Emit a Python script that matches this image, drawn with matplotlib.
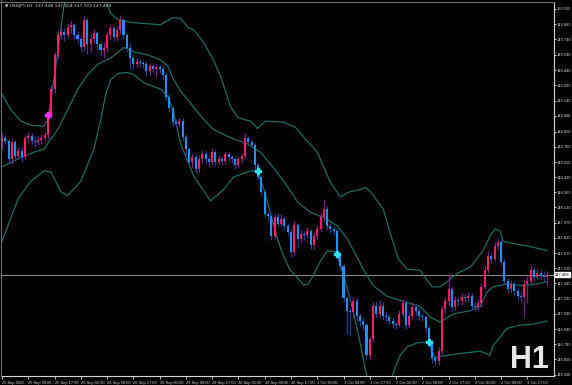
import matplotlib
matplotlib.use("Agg")
import matplotlib.pyplot as plt
import numpy as np

# ---------------- data ----------------
first_open = 148.76
closes = [148.79, 148.76, 148.58, 148.75, 148.61, 148.66, 148.60, 148.79, 148.81, 148.76,
          148.75, 148.77, 148.79, 148.82, 149.01, 149.26, 149.59, 149.78, 149.81, 149.78,
          149.86, 149.88, 149.78, 149.74, 149.67, 149.93, 149.69, 149.74, 149.80, 149.69,
          149.64, 149.66, 149.78, 149.85, 149.76, 149.83, 149.93, 149.78, 149.66, 149.56,
          149.50, 149.52, 149.51, 149.50, 149.43, 149.48, 149.45, 149.47, 149.45, 149.40,
          149.18, 149.08, 148.94, 148.92, 148.95, 148.80, 148.68, 148.56, 148.60, 148.49,
          148.58, 148.63, 148.58, 148.56, 148.65, 148.56, 148.58, 148.57, 148.63, 148.60,
          148.58, 148.53, 148.58, 148.61, 148.79, 148.75, 148.72, 148.53, 148.41, 148.27,
          148.05, 148.03, 147.84, 148.02, 147.96, 148.01, 147.94, 147.88, 147.69, 147.95,
          147.81, 147.86, 147.85, 147.89, 147.75, 147.84, 147.91, 148.02, 148.10, 147.94,
          147.91, 147.89, 147.65, 147.55, 147.24, 147.12, 147.11, 147.21, 147.07, 147.02,
          146.98, 146.69, 146.85, 147.17, 147.09, 147.17, 147.07, 147.06, 147.02, 146.99,
          146.98, 147.09, 147.19, 146.98, 147.07, 147.16, 147.12, 147.07, 147.06, 146.95,
          146.82, 146.66, 146.63, 146.73, 147.14, 147.21, 147.33, 147.16, 147.22, 147.21,
          147.25, 147.24, 147.26, 147.17, 147.16, 147.19, 147.35, 147.51, 147.65, 147.62,
          147.74, 147.78, 147.59, 147.41, 147.33, 147.38, 147.31, 147.26, 147.25, 147.38,
          147.41, 147.51, 147.45, 147.48, 147.46, 147.448, 147.469]
highs = [148.84, 148.82, 148.78, 148.78, 148.77, 148.69, 148.70, 148.82, 148.85, 148.84,
         148.80, 148.81, 148.83, 148.85, 149.05, 149.30, 149.62, 149.83, 149.86, 149.85,
         149.90, 149.92, 149.90, 149.82, 149.77, 149.97, 149.95, 149.79, 149.84, 149.82,
         149.72, 149.71, 149.82, 149.89, 149.87, 149.87, 149.97, 149.95, 149.80, 149.70,
         149.60, 149.56, 149.55, 149.54, 149.53, 149.51, 149.51, 149.50, 149.49, 149.48,
         149.42, 149.21, 149.10, 148.97, 148.98, 148.98, 148.83, 148.70, 148.64, 148.63,
         148.62, 148.67, 148.66, 148.61, 148.69, 148.67, 148.62, 148.61, 148.66, 148.65,
         148.62, 148.60, 148.61, 148.64, 148.84, 148.81, 148.77, 148.74, 148.55, 148.43,
         148.29, 148.08, 148.05, 148.05, 148.06, 148.05, 148.03, 147.97, 147.91, 147.99,
         147.97, 147.90, 147.89, 147.93, 147.91, 147.88, 147.95, 148.06, 148.20, 148.13,
         147.97, 147.94, 147.91, 147.67, 147.57, 147.26, 147.15, 147.25, 147.24, 147.10,
         147.05, 147.00, 146.88, 147.20, 147.21, 147.22, 147.20, 147.12, 147.09, 147.05,
         147.02, 147.13, 147.23, 147.22, 147.11, 147.20, 147.19, 147.15, 147.10, 147.08,
         146.97, 146.84, 146.69, 146.77, 147.18, 147.25, 147.48, 147.36, 147.26, 147.25,
         147.29, 147.28, 147.30, 147.29, 147.20, 147.23, 147.39, 147.55, 147.70, 147.68,
         147.78, 147.82, 147.81, 147.62, 147.44, 147.42, 147.41, 147.34, 147.30, 147.42,
         147.46, 147.56, 147.54, 147.52, 147.51, 147.50, 147.504]
lows = [148.68, 148.73, 148.55, 148.54, 148.58, 148.58, 148.56, 148.58, 148.74, 148.73,
        148.70, 148.72, 148.73, 148.76, 148.78, 148.98, 149.22, 149.55, 149.74, 149.72,
        149.75, 149.80, 149.74, 149.70, 149.62, 149.63, 149.60, 149.62, 149.70, 149.65,
        149.58, 149.56, 149.62, 149.74, 149.72, 149.72, 149.79, 149.74, 149.62, 149.45,
        149.45, 149.47, 149.47, 149.46, 149.39, 149.40, 149.41, 149.38, 149.41, 149.36,
        149.15, 149.04, 148.90, 148.88, 148.89, 148.77, 148.62, 148.52, 148.50, 148.45,
        148.46, 148.55, 148.54, 148.51, 148.53, 148.52, 148.53, 148.53, 148.54, 148.57,
        148.55, 148.49, 148.50, 148.55, 148.59, 148.72, 148.69, 148.49, 148.38, 148.24,
        148.02, 147.99, 147.80, 147.81, 147.93, 147.94, 147.90, 147.84, 147.64, 147.65,
        147.73, 147.77, 147.80, 147.82, 147.72, 147.72, 147.81, 147.88, 147.99, 147.90,
        147.87, 147.85, 147.62, 147.51, 147.20, 146.90, 146.88, 147.05, 147.02, 146.97,
        146.93, 146.65, 146.64, 146.82, 147.05, 147.06, 147.03, 147.02, 146.99, 146.95,
        146.94, 146.96, 147.06, 146.94, 146.95, 147.04, 147.08, 147.03, 147.02, 146.91,
        146.78, 146.62, 146.59, 146.60, 146.70, 147.10, 147.18, 147.12, 147.13, 147.17,
        147.18, 147.20, 147.21, 147.14, 147.12, 147.13, 147.16, 147.33, 147.48, 147.58,
        147.60, 147.71, 147.56, 147.38, 147.29, 147.30, 147.27, 147.22, 147.20, 147.06,
        147.19, 147.38, 147.41, 147.43, 147.42, 147.41, 147.372]

# band samples (bar index, price)
upper_idx = [0, 2.7, 5.8, 8.8, 12.8, 14, 14.9, 16.4, 17.9, 18.8, 21, 24, 27, 30, 31.6, 33.1,
             35.3, 40.1, 44.4, 48.3, 49.2, 52.3, 54.4, 56.8, 58.4, 61.4, 64.4, 66.6, 69.6,
             71.7, 73.3, 75.7, 77.8, 80.2, 85.7, 89.4, 91.8, 96, 100, 103, 106, 109.1, 110.6,
             112.2, 116.1, 118.8, 120.7, 123.4, 127.4, 129.5, 131, 133.4, 135.9, 138.6, 142.6,
             146.5, 148.6, 150.2, 151.7, 152.6, 155.6, 160.8, 166]
upper = [149.21, 149.06, 148.95, 148.91, 148.90, 148.97, 149.16, 149.48, 149.83, 150.05,
         150.36, 150.55, 150.50, 150.26, 150.12, 149.99, 149.93, 149.90, 149.89, 149.88,
         149.90, 149.95, 149.94, 149.85, 149.83, 149.71, 149.54, 149.38, 149.09, 148.99,
         148.97, 148.95, 148.88, 148.95, 148.94, 148.89, 148.80, 148.65, 148.36, 148.22,
         148.27, 148.29, 148.31, 148.27, 148.10, 147.81, 147.62, 147.52, 147.51, 147.41,
         147.35, 147.35, 147.41, 147.48, 147.54, 147.70, 147.84, 147.91, 147.89, 147.79,
         147.77, 147.74, 147.70]
middle_idx = [0, 2.7, 5.8, 9.7, 12.8, 14.3, 17, 20, 23.1, 26.1, 29.2, 33.1, 37.1, 40.1, 44.4,
              48.3, 50.5, 52.3, 54.4, 56.5, 60.5, 64.4, 69.6, 74.8, 78.7, 82.7, 86.9, 90,
              93.9, 97.9, 102.1, 105.2, 107.6, 110, 113.1, 117.3, 122.2, 127.4, 130.4, 133.4,
              137.4, 142.6, 145.6, 147.7, 149.5, 153.8, 158.7, 162.9, 166]
middle = [148.51, 148.55, 148.60, 148.65, 148.68, 148.75, 148.87, 149.06, 149.26, 149.40,
          149.50, 149.56, 149.66, 149.62, 149.59, 149.54, 149.48, 149.35, 149.24, 149.16,
          149.00, 148.87, 148.79, 148.73, 148.65, 148.50, 148.32, 148.17, 148.07, 148.02,
          147.94, 147.81, 147.67, 147.52, 147.36, 147.26, 147.21, 147.16, 147.06, 147.01,
          147.09, 147.12, 147.16, 147.30, 147.35, 147.38, 147.36, 147.38, 147.40]
lower_idx = [0, 1.8, 4.9, 8.8, 12.8, 14.9, 17.9, 20, 24, 28, 30.1, 31.6, 33.1, 35.3, 38.3,
             40.1, 43.2, 48.3, 50.5, 52.3, 54.4, 58.4, 63.5, 67.5, 70.5, 75.7, 77.8, 80.2,
             83.9, 85.7, 87.8, 89.4, 91.8, 93.3, 94.8, 97, 99.1, 101.5, 103, 106, 108.5,
             110.6, 112.8, 115.8, 118.2, 119.8, 121.3, 123.4, 126.4, 129.8, 131.9, 133.4,
             140.4, 145.6, 148.6, 149.5, 153.8, 157.7, 161.7, 166]
lower = [147.79, 147.94, 148.20, 148.37, 148.47, 148.46, 148.27, 148.23, 148.37, 148.68,
         148.97, 149.21, 149.35, 149.41, 149.42, 149.40, 149.32, 149.26, 149.19, 149.03,
         148.73, 148.42, 148.18, 148.29, 148.41, 148.47, 148.47, 148.25, 147.81, 147.65,
         147.51, 147.46, 147.37, 147.38, 147.46, 147.60, 147.70, 147.69, 147.57, 147.24,
         146.90, 146.56, 146.27, 146.23, 146.42, 146.58, 146.69, 146.77, 146.81, 146.82,
         146.66, 146.68, 146.71, 146.73, 146.69, 146.78, 146.95, 146.98, 146.99, 147.02]

buy_arrow_idx = [78, 102, 130]
buy_arrow_price = [148.47, 147.67, 146.82]
sell_arrow_idx = [14]
sell_arrow_price = [149.01]

ytick_vals = [150.035, 149.885, 149.740, 149.590, 149.440, 149.295, 149.145, 149.000,
              148.850, 148.705, 148.555, 148.410, 148.265, 148.120, 147.970, 147.825,
              147.675, 147.530, 147.385, 147.235, 147.090, 146.940, 146.795, 146.650, 146.500]
xtick_labels = ["25 Sep 2025", "25 Sep 09:00", "25 Sep 17:00", "26 Sep 01:00", "26 Sep 09:00",
                "26 Sep 17:00", "29 Sep 01:00", "29 Sep 09:00", "29 Sep 17:00", "30 Sep 01:00",
                "30 Sep 09:00", "30 Sep 17:00", "1 Oct 01:00", "1 Oct 09:00", "1 Oct 17:00",
                "2 Oct 01:00", "2 Oct 09:00", "2 Oct 17:00", "3 Oct 01:00", "3 Oct 09:00",
                "3 Oct 17:00"]
xtick_step = 8
last_price = 147.469
header = "\u25BC USDJPY,H1  147.448 147.504 147.372 147.469"

# ---------------- styles ----------------
BULL = "#ff1f66"
BEAR = "#1e90ff"
BULL_WICK = "#7d1f86"
BEAR_WICK = "#29408f"
BAND = "#1f6b64"
FG = "#d8d8d8"
FS = 2.9
SMALL_FONT = ["Liberation Sans", "DejaVu Sans"]
plt.rcParams["font.family"] = SMALL_FONT

W, H = 572, 385
fig = plt.figure(figsize=(W / 100, H / 100), dpi=100, facecolor="black")
ax = fig.add_axes([1 / W, 9 / H, 553 / W, 374 / H], facecolor="black")

n = len(closes)
opens = [first_open] + closes[:-1]
x = np.arange(n)
o = np.array(opens); c = np.array(closes); hi = np.array(highs); lo = np.array(lows)
up = c >= o

# bands
for bx, by in ((upper_idx, upper), (middle_idx, middle), (lower_idx, lower)):
    ax.plot(bx, by, color=BAND, lw=0.9, zorder=2)

# current price line
ax.axhline(last_price, color="#8a8a8a", lw=0.8, zorder=1)

# wicks
ax.vlines(x[up], lo[up], hi[up], color=BULL_WICK, lw=0.9, zorder=3)
ax.vlines(x[~up], lo[~up], hi[~up], color=BEAR_WICK, lw=0.9, zorder=3)
# bodies
body_h = np.maximum(np.abs(c - o), 0.006)
ax.bar(x[up], body_h[up], bottom=np.minimum(o, c)[up], width=0.62, color=BULL, lw=0, zorder=4)
ax.bar(x[~up], body_h[~up], bottom=np.minimum(o, c)[~up], width=0.62, color=BEAR, lw=0, zorder=4)

# arrows
ax.plot(buy_arrow_idx, buy_arrow_price, ls="none", marker="P", ms=5, color="#33e0ff",
        mec="#33e0ff", zorder=5)
ax.plot(sell_arrow_idx, sell_arrow_price, ls="none", marker="P", ms=5, color="#ff33ff",
        mec="#ff33ff", zorder=5)

ax.set_xlim(-0.3, 168.1)
ax.set_ylim(146.49, 150.10)

for s in ["left", "top"]:
    ax.spines[s].set_visible(False)
ax.spines["right"].set_color(FG); ax.spines["right"].set_linewidth(0.8)
ax.spines["bottom"].set_color(FG); ax.spines["bottom"].set_linewidth(0.8)

ax.yaxis.tick_right()
ax.set_yticks(ytick_vals)
ax.set_yticklabels([f"{v:.3f}" for v in ytick_vals])
ax.tick_params(axis="y", colors=FG, labelsize=FS, length=1.5, width=0.6, pad=0.4)
xt = np.arange(len(xtick_labels)) * xtick_step
ax.set_xticks(xt)
ax.set_xticklabels(xtick_labels, ha="left")
ax.tick_params(axis="x", colors=FG, labelsize=FS, length=2.5, width=0.6, pad=0.8)

# top / left border
fig.add_artist(plt.Line2D([0, 554 / W], [1 - 1.5 / H, 1 - 1.5 / H], color="#707070", lw=0.8))
fig.add_artist(plt.Line2D([1 / W, 1 / W], [9 / H, 1], color="#707070", lw=0.8))

# last price box
ax.annotate(f"{last_price:.3f}", xy=(1, last_price), xycoords=("axes fraction", "data"),
            xytext=(0.8, 0), textcoords="offset points", ha="left", va="center",
            fontsize=FS, color="black",
            bbox=dict(boxstyle="square,pad=0.15", fc="white", ec="white"))

fig.text(5 / W, 1 - 5.5 / H, header, color=FG, fontsize=FS + 0.3, ha="left", va="center",
         family=["DejaVu Sans"])
fig.text(549 / W, 1 - 368 / H, "H1", color="#e6e6e6", fontsize=22, fontweight="bold",
         ha="right", va="baseline")

fig.savefig("out.png", dpi=100, facecolor="black")
